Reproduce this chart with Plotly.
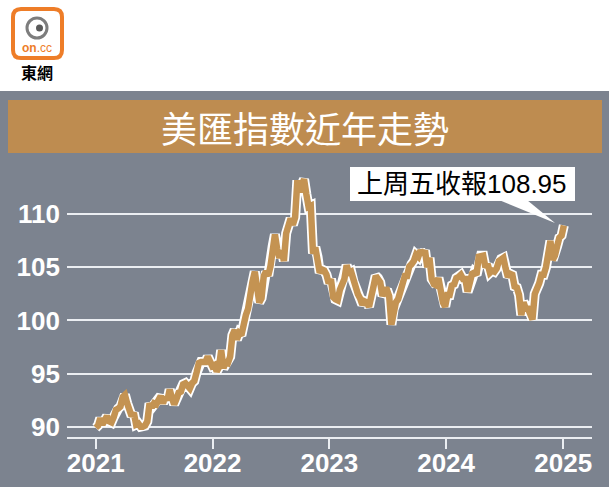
import plotly.graph_objects as go

# ---------------- data ----------------
dates = [
"2021-01-01","2021-01-08","2021-01-15","2021-01-22","2021-01-29","2021-02-05","2021-02-12","2021-02-19","2021-02-26",
"2021-03-05","2021-03-12","2021-03-19","2021-03-26","2021-04-02","2021-04-09","2021-04-16","2021-04-23","2021-04-30",
"2021-05-07","2021-05-14","2021-05-21","2021-05-28","2021-06-04","2021-06-11","2021-06-18","2021-06-25","2021-07-02",
"2021-07-09","2021-07-16","2021-07-23","2021-07-30","2021-08-06","2021-08-13","2021-08-20","2021-08-27","2021-09-03",
"2021-09-10","2021-09-17","2021-09-24","2021-10-01","2021-10-08","2021-10-15","2021-10-22","2021-10-29","2021-11-05",
"2021-11-12","2021-11-19","2021-11-26","2021-12-03","2021-12-10","2021-12-17","2021-12-24","2021-12-31",
"2022-01-07","2022-01-14","2022-01-21","2022-01-28","2022-02-04","2022-02-11","2022-02-18","2022-02-25","2022-03-04",
"2022-03-11","2022-03-18","2022-03-25","2022-04-01","2022-04-08","2022-04-15","2022-04-22","2022-04-29","2022-05-06",
"2022-05-13","2022-05-20","2022-05-27","2022-06-03","2022-06-10","2022-06-17","2022-06-24","2022-07-01","2022-07-08",
"2022-07-15","2022-07-22","2022-07-29","2022-08-05","2022-08-12","2022-08-19","2022-08-26","2022-09-02","2022-09-09",
"2022-09-16","2022-09-23","2022-09-30","2022-10-07","2022-10-14","2022-10-21","2022-10-28","2022-11-04","2022-11-11",
"2022-11-18","2022-11-25","2022-12-02","2022-12-09","2022-12-16","2022-12-23","2022-12-30",
"2023-01-06","2023-01-13","2023-01-20","2023-01-27","2023-02-03","2023-02-10","2023-02-17","2023-02-24","2023-03-03",
"2023-03-10","2023-03-17","2023-03-24","2023-03-31","2023-04-07","2023-04-14","2023-04-21","2023-04-28","2023-05-05",
"2023-05-12","2023-05-19","2023-05-26","2023-06-02","2023-06-09","2023-06-16","2023-06-23","2023-06-30","2023-07-07",
"2023-07-14","2023-07-21","2023-07-28","2023-08-04","2023-08-11","2023-08-18","2023-08-25","2023-09-01","2023-09-08",
"2023-09-15","2023-09-22","2023-09-29","2023-10-06","2023-10-13","2023-10-20","2023-10-27","2023-11-03","2023-11-10",
"2023-11-17","2023-11-24","2023-12-01","2023-12-08","2023-12-15","2023-12-22","2023-12-29",
"2024-01-05","2024-01-12","2024-01-19","2024-01-26","2024-02-02","2024-02-09","2024-02-16","2024-02-23","2024-03-01",
"2024-03-08","2024-03-15","2024-03-22","2024-03-29","2024-04-05","2024-04-12","2024-04-19","2024-04-26","2024-05-03",
"2024-05-10","2024-05-17","2024-05-24","2024-05-31","2024-06-07","2024-06-14","2024-06-21","2024-06-28","2024-07-05",
"2024-07-12","2024-07-19","2024-07-26","2024-08-02","2024-08-09","2024-08-16","2024-08-23","2024-08-30","2024-09-06",
"2024-09-13","2024-09-20","2024-09-27","2024-10-04","2024-10-11","2024-10-18","2024-10-25","2024-11-01","2024-11-08",
"2024-11-15","2024-11-22","2024-11-29","2024-12-06","2024-12-13","2024-12-20","2024-12-27","2025-01-03",
]
dxy = [
89.9, 90.1, 90.8, 90.2, 90.6, 91.0, 90.5, 90.4, 90.9,
91.6, 91.7, 91.9, 92.8, 93.0, 92.2, 91.6, 91.0, 91.3,
90.2, 90.3, 90.0, 90.0, 90.1, 90.5, 92.2, 91.8, 92.2,
92.1, 92.7, 92.9, 92.2, 92.8, 92.5, 93.5, 92.7, 92.1,
92.6, 93.2, 93.3, 94.0, 94.1, 93.9, 93.6, 94.1, 94.3,
95.1, 96.0, 96.1, 96.1, 96.1, 96.6, 96.0, 95.7,
95.8, 95.2, 95.6, 97.2, 95.5, 96.1, 96.0, 96.6, 98.6,
99.1, 98.2, 98.8, 98.6, 99.8, 100.5, 101.1, 103.0, 103.7,
104.6, 103.0, 101.7, 102.1, 104.2, 104.6, 104.2, 105.1, 107.0,
108.1, 106.7, 105.9, 106.6, 105.6, 108.2, 108.8, 109.6, 109.0,
109.7, 113.2, 112.1, 112.8, 113.3, 111.9, 110.7, 110.8, 106.3,
106.9, 106.0, 104.5, 104.8, 104.7, 104.3, 103.5,
103.9, 102.2, 102.0, 101.9, 102.9, 103.6, 103.9, 105.2, 104.5,
104.6, 103.7, 103.1, 102.5, 102.1, 101.5, 101.8, 101.7, 101.3,
102.7, 103.2, 104.2, 104.0, 103.6, 102.3, 102.9, 102.9, 102.3,
99.6, 101.1, 101.7, 102.0, 102.8, 103.4, 104.2, 104.2, 105.1,
105.3, 105.6, 106.2, 106.0, 106.6, 106.2, 106.6, 105.0, 105.9,
103.9, 103.4, 103.3, 104.0, 102.6, 101.7, 101.3,
102.4, 102.4, 103.3, 103.4, 104.0, 104.1, 104.3, 103.9, 103.9,
102.7, 103.4, 104.4, 104.5, 104.3, 106.0, 106.1, 106.1, 105.0,
105.3, 104.5, 104.7, 104.6, 104.9, 105.6, 105.8, 105.9, 104.9,
104.1, 104.4, 104.3, 103.2, 103.1, 102.4, 100.5, 101.7, 101.1,
101.1, 100.7, 100.1, 102.5, 102.9, 103.5, 104.3, 104.3, 105.0,
106.7, 107.5, 105.7, 106.1, 107.0, 107.8, 108.0, 108.95,
]
y_ticks = [90, 95, 100, 105, 110]
x_ticks = ["2021-01-01", "2022-01-01", "2023-01-01", "2024-01-01", "2025-01-01"]
x_labels = ["2021", "2022", "2023", "2024", "2025"]
title_text = "美匯指數近年走勢"
callout_text = "上周五收報108.95"
logo_text = "東網"

# ---------------- layout helpers ----------------
W, H = 609, 487
L, R, T, B = 67, 592, 160, 437
def px(x):
    return (x - L) / (R - L)
def py(y):
    return (B - y) / (B - T)

GRAY = "rgb(124,131,143)"
TAN = "rgb(190,140,80)"
LINE = "rgb(196,147,82)"
ORANGE = "rgb(238,125,40)"
GRID = "rgb(235,238,242)"

fig = go.Figure()
fig.add_trace(go.Scatter(x=dates, y=dxy, mode="lines",
                         line=dict(color="white", width=10), hoverinfo="skip", showlegend=False))
fig.add_trace(go.Scatter(x=dates, y=dxy, mode="lines",
                         line=dict(color=LINE, width=6.5), showlegend=False))

shapes = []
shapes.append(dict(type="rect", xref="paper", yref="paper", layer="below",
                   x0=px(0), x1=px(W), y0=py(91), y1=py(H),
                   fillcolor=GRAY, line=dict(width=0)))
shapes.append(dict(type="rect", xref="paper", yref="paper",
                   x0=px(8), x1=px(602), y0=py(100), y1=py(153),
                   fillcolor=TAN, line=dict(width=0)))
shapes.append(dict(type="rect", xref="paper", yref="paper",
                   x0=px(350), x1=px(575), y0=py(167), y1=py(201),
                   fillcolor="white", line=dict(width=0)))
shapes.append(dict(type="path", xref="paper", yref="paper",
                   path=f"M {px(499)} {py(200)} L {px(527)} {py(200)} L {px(555)} {py(223)} Z",
                   fillcolor="white", line=dict(width=0)))
x0, x1, y0, y1, r = 13, 62, 9, 58, 8
p = (f"M {px(x0+r)} {py(y0)} L {px(x1-r)} {py(y0)} Q {px(x1)} {py(y0)} {px(x1)} {py(y0+r)} "
     f"L {px(x1)} {py(y1-r)} Q {px(x1)} {py(y1)} {px(x1-r)} {py(y1)} "
     f"L {px(x0+r)} {py(y1)} Q {px(x0)} {py(y1)} {px(x0)} {py(y1-r)} "
     f"L {px(x0)} {py(y0+r)} Q {px(x0)} {py(y0)} {px(x0+r)} {py(y0)} Z")
shapes.append(dict(type="path", xref="paper", yref="paper", path=p,
                   fillcolor="white", line=dict(color=ORANGE, width=4)))
shapes.append(dict(type="circle", xref="paper", yref="paper",
                   x0=px(27), x1=px(47), y0=py(18), y1=py(38),
                   fillcolor="rgba(0,0,0,0)", line=dict(color="rgb(125,125,125)", width=3)))
shapes.append(dict(type="circle", xref="paper", yref="paper",
                   x0=px(36), x1=px(43), y0=py(24.5), y1=py(31.5),
                   fillcolor="rgb(90,90,90)", line=dict(width=0)))

annotations = [
    dict(text=title_text, xref="paper", yref="paper", x=px(305), y=py(127),
         showarrow=False, xanchor="center", yanchor="middle",
         font=dict(family="Noto Sans CJK TC", size=36, color="white")),
    dict(text=callout_text, xref="paper", yref="paper", x=px(462), y=py(184),
         showarrow=False, xanchor="center", yanchor="middle",
         font=dict(family="Liberation Sans, Noto Sans CJK TC", size=26, color="black")),
    dict(text="<b>on</b>.cc", xref="paper", yref="paper", x=px(37), y=py(48),
         showarrow=False, xanchor="center", yanchor="middle",
         font=dict(family="Liberation Sans", size=12, color=ORANGE)),
    dict(text=logo_text, xref="paper", yref="paper", x=px(37), y=py(72),
         showarrow=False, xanchor="center", yanchor="middle",
         font=dict(family="Noto Sans CJK TC", size=16, color="black", weight="bold")),
]

fig.update_layout(
    width=W, height=H, autosize=False,
    margin=dict(l=L, r=W - R, t=T, b=H - B, pad=0, autoexpand=False),
    paper_bgcolor="white", plot_bgcolor=GRAY,
    shapes=shapes, annotations=annotations,
    xaxis=dict(range=["2020-10-03", "2025-04-01"], type="date", automargin=False,
               tickvals=x_ticks, ticktext=x_labels,
               showgrid=False, zeroline=False,
               showline=True, linecolor=GRID, linewidth=2,
               ticks="outside", ticklen=10, tickwidth=2, tickcolor=GRID,
               ticklabelstandoff=-8,
               tickfont=dict(family="Liberation Sans", size=26, color="white", weight="bold")),
    yaxis=dict(range=[89.03, 115.11], tickvals=y_ticks, automargin=False,
               showgrid=True, gridcolor=GRID, gridwidth=2,
               zeroline=False, showline=False, ticks="",
               ticklabelstandoff=6,
               tickfont=dict(family="Liberation Sans", size=26, color="white", weight="bold")),
    showlegend=False,
)

fig.write_html("out.html", config={"displayModeBar": False},
               post_script="document.body.style.margin='0';document.body.style.overflow='hidden';")
